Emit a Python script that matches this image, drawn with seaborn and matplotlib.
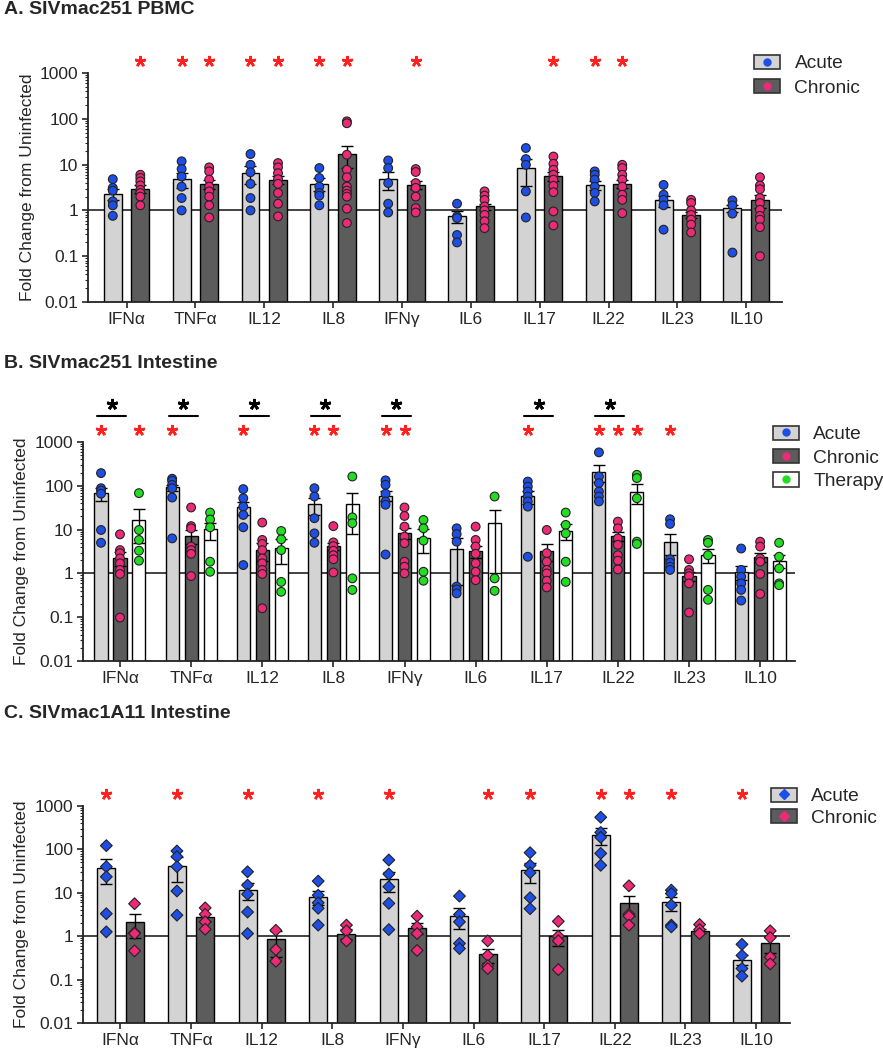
import numpy as np
import pandas as pd
import matplotlib
matplotlib.use("Agg")
import matplotlib.pyplot as plt
import seaborn as sns
from matplotlib.patches import Patch
from matplotlib.lines import Line2D
from matplotlib.ticker import FuncFormatter

cytokines = ["IFNα", "TNFα", "IL12", "IL8", "IFNγ", "IL6", "IL17", "IL22", "IL23", "IL10"]

# ---- A. SIVmac251 PBMC ----
A_acute_mean = [2.3, 4.8, 6.5, 3.8, 4.8, 0.74, 8.4, 3.6, 1.65, 1.12]
A_acute_sem = [0.6, 1.7, 2.8, 1.2, 2.0, 0.21, 5.0, 0.8, 0.45, 0.22]
A_acute_pts = [[4.8, 3.1, 2.7, 1.57, 1.29, 0.76],
               [11.8, 8.0, 5.5, 3.3, 1.86, 1.0],
               [17, 9.9, 6.8, 3.8, 1.86, 1.0],
               [8.4, 5.1, 3.3, 2.4, 2.1, 1.29],
               [12.3, 8.4, 3.95, 1.4, 0.9],
               [1.4, 0.74, 0.68, 0.29, 0.2],
               [23, 13.2, 9.9, 2.6, 0.70],
               [7.1, 6.0, 4.7, 3.3, 2.4, 1.57],
               [3.6, 2.2, 1.7, 1.29, 0.38],
               [1.65, 1.29, 0.85, 0.12]]
A_acute_star = [0, 1, 1, 1, 0, 0, 0, 1, 0, 0]

A_chronic_mean = [3.0, 3.8, 4.7, 17.3, 3.6, 1.22, 5.7, 3.8, 0.8, 1.65]
A_chronic_sem = [0.55, 0.9, 0.9, 8.7, 0.7, 0.18, 1.3, 0.7, 0.13, 0.5]
A_chronic_pts = [[6.0, 5.1, 4.3, 3.5, 2.8, 2.4, 2.0, 1.29],
                 [8.7, 7.1, 4.7, 3.3, 2.6, 2.0, 1.29, 0.70],
                 [10.8, 8.7, 6.5, 4.8, 3.8, 2.4, 1.4, 0.74],
                 [88, 80, 16.4, 7.7, 5.3, 3.3, 2.7, 2.3, 2.0, 1.09, 0.53],
                 [8.0, 6.9, 3.95, 3.1, 2.0, 1.12, 0.9],
                 [2.6, 2.1, 1.7, 1.22, 1.0, 0.8, 0.58, 0.41],
                 [15, 10.4, 7.7, 6.0, 4.7, 3.45, 2.5, 0.95, 0.47],
                 [9.9, 8.4, 6.0, 4.7, 3.3, 2.2, 1.7, 0.87],
                 [1.7, 1.45, 1.0, 0.8, 0.63, 0.49, 0.33],
                 [5.3, 3.5, 2.9, 1.86, 1.45, 1.03, 0.76, 0.63, 0.43, 0.10]]
A_chronic_star = [1, 1, 1, 1, 1, 0, 1, 1, 0, 0]

# ---- B. SIVmac251 Intestine ----
B_acute_mean = [68, 92, 32, 38, 60, 3.55, 57, 206, 5.3, 1.09]
B_acute_sem = [22, 15, 10, 16, 15, 3.0, 18, 85, 2.6, 0.4]
B_acute_pts = [[195, 88, 78, 66, 9.8, 5.0],
               [145, 130, 105, 88, 54, 6.3],
               [84, 52, 33.5, 21.6, 11.3, 1.55],
               [88, 57, 18.2, 8.2, 5.0],
               [133, 105, 66, 44, 37, 2.7],
               [10.7, 7.9, 5.3, 0.5, 0.43, 0.35],
               [125, 96, 74, 57, 44, 33.5, 2.4],
               [580, 163, 115, 74, 57, 44],
               [17.2, 13.5, 2.1, 1.75, 1.42, 1.2],
               [3.7, 1.2, 0.84, 0.59, 0.42, 0.24]]
B_acute_star = [1, 1, 1, 1, 1, 0, 1, 1, 1, 0]

B_chronic_mean = [2.3, 7.3, 3.4, 4.2, 8.5, 3.3, 3.3, 7.2, 0.87, 2.4]
B_chronic_sem = [0.85, 2.5, 1.5, 0.8, 2.5, 1.0, 1.4, 1.8, 0.2, 0.6]
B_chronic_pts = [[7.8, 3.4, 2.9, 2.2, 1.7, 1.2, 0.97, 0.098],
                 [32, 12, 10.7, 4.1, 3.4, 2.8, 0.87],
                 [14.5, 5.8, 4.7, 3.4, 2.2, 1.7, 1.2, 0.97, 0.16],
                 [12, 5.1, 4.2, 3.3, 2.6, 2.1, 1.05],
                 [32, 20.5, 11.7, 6.9, 4.9, 1.85, 1.42, 1.0],
                 [11.7, 5.8, 4.1, 2.8, 1.7, 1.09, 0.70],
                 [9.8, 2.9, 1.85, 1.2, 1.0, 0.68, 0.48],
                 [15.2, 10.7, 6.3, 4.5, 2.6, 1.95, 1.23],
                 [2.1, 1.2, 1.0, 0.87, 0.59, 0.128],
                 [5.3, 4.1, 2.2, 1.85, 0.97, 0.34]]
B_chronic_star = [0, 0, 0, 1, 1, 0, 0, 1, 0, 0]

B_therapy_mean = [17, 10.2, 3.9, 38, 6.6, 14.5, 9.5, 74, 2.7, 1.95]
B_therapy_sem = [12, 4.3, 2.3, 30, 3.6, 13.5, 3.8, 36, 1.0, 0.65]
B_therapy_pts = [[68, 9.8, 5.8, 3.3, 1.95],
                 [24.5, 17, 11.3, 1.85, 1.09],
                 [9.3, 6.0, 3.4, 0.64, 0.38],
                 [163, 19, 14, 0.77, 0.42],
                 [16.6, 10.7, 5.6, 1.09, 0.68],
                 [57, 0.77, 0.40],
                 [24.5, 12.8, 8.2, 1.85, 0.64],
                 [178, 150, 52, 5.3, 4.7],
                 [5.8, 5.0, 2.6, 0.42, 0.25],
                 [5.0, 2.4, 1.3, 0.59, 0.54]]
B_therapy_star = [1, 0, 0, 0, 0, 0, 0, 1, 0, 0]

B_bracket = [1, 1, 1, 1, 1, 0, 1, 1, 0, 0]

# ---- C. SIVmac1A11 Intestine ----
C_acute_mean = [38, 42, 11.9, 8.1, 20.7, 2.95, 33, 214, 6.0, 0.29]
C_acute_sem = [22, 24, 5, 2.9, 10, 1.5, 16, 90, 2.1, 0.07]
C_acute_pts = [[122, 40, 23.4, 3.3, 1.26],
               [92, 68, 40, 11, 3.05],
               [30.5, 15, 9.3, 3.6, 1.15],
               [18.6, 8.8, 5.9, 4.4, 1.8],
               [57, 27, 13.8, 5.7, 1.42],
               [8.4, 3.16, 2.14, 0.68, 0.52],
               [84, 43, 29, 7.7, 4.3],
               [550, 246, 190, 81, 43],
               [11.5, 9.6, 5.2, 1.8, 1.64],
               [0.65, 0.36, 0.18, 0.12]]
C_acute_star = [1, 1, 1, 1, 1, 0, 1, 1, 1, 1]

C_chronic_mean = [2.1, 2.8, 0.84, 1.15, 1.56, 0.38, 1.0, 5.7, 1.35, 0.70]
C_chronic_sem = [1.2, 0.5, 0.5, 0.3, 0.45, 0.14, 0.42, 2.8, 0.15, 0.3]
C_chronic_pts = [[5.6, 1.2, 1.15, 0.46],
                 [4.5, 3.2, 2.14, 1.45],
                 [1.37, 0.49, 0.265],
                 [1.8, 1.33, 0.78],
                 [2.9, 1.64, 1.15, 0.47],
                 [0.78, 0.36, 0.21, 0.18],
                 [2.2, 1.0, 0.78, 0.17],
                 [14.5, 3.2, 2.9, 1.8],
                 [1.86, 1.42, 1.15],
                 [1.33, 0.93, 0.33, 0.23]]
C_chronic_star = [0, 0, 0, 0, 0, 1, 0, 1, 0, 0]

LIGHT = "#d3d3d3"
DARK = "#5c5c5c"
WHITE = "#ffffff"
BLUE = "#1d4fe6"
PINK = "#ec2a78"
GREEN = "#22dd22"

sns.set_style("ticks")
plt.rcParams['font.family'] = ['Liberation Sans', 'DejaVu Sans']


def panel(ax, groups, marker, gap, title, title_y, xlim, legend_pos, labelspacing, bracket=None):
    names = [g[0] for g in groups]
    bars = pd.DataFrame({
        'cytokine': np.tile(cytokines, len(groups)),
        'group': np.repeat(names, len(cytokines)),
        'value': np.concatenate([g[1] for g in groups]),
    })
    rows = []
    for g in groups:
        for cyt, pts in zip(cytokines, g[3]):
            for v in pts:
                rows.append((cyt, g[0], v))
    pts_df = pd.DataFrame(rows, columns=['cytokine', 'group', 'value'])

    # bars on a linear axis first, then switch to log
    sns.barplot(data=bars, x='cytokine', y='value', hue='group', order=cytokines,
                hue_order=names, palette=[g[5] for g in groups], width=0.8, gap=gap,
                edgecolor='black', linewidth=1.0, errorbar=None, saturation=1,
                legend=False, ax=ax)
    ax.set_yscale('log')
    ax.axhline(1, color='#222222', lw=1.2, zorder=0.9)

    centers = []
    for cont, g in zip(ax.containers, groups):
        xs = np.array([b.get_x() + b.get_width() / 2 for b in cont])
        centers.append(xs)
        m = np.array(g[1])
        s = np.array(g[2])
        low = np.minimum(s, m * 0.95)
        ax.errorbar(xs, m, yerr=[low, s], fmt='none', ecolor='black', elinewidth=1.0,
                    capsize=4, capthick=1.0, zorder=3)

    sns.stripplot(data=pts_df, x='cytokine', y='value', hue='group', order=cytokines,
                  hue_order=names, palette=[g[6] for g in groups], dodge=True, jitter=False,
                  marker=marker, size=6.3 if marker == 'o' else 6, edgecolor='#222222',
                  linewidth=0.8, legend=False, ax=ax, zorder=4)

    trans = ax.get_xaxis_transform()
    for xs, g in zip(centers, groups):
        for x, st in zip(xs, g[4]):
            if st:
                ax.plot([x], [1.053], marker=(5, 2, 0), ms=8, mew=1.8, color='#ff2020',
                        transform=trans, clip_on=False)
    if bracket is not None:
        for i, b in enumerate(bracket):
            if b:
                x0 = centers[0][i] - 0.05
                x1 = centers[1][i] + 0.09
                ax.plot([x0, x1], [1.119, 1.119], color='black', lw=1.5,
                        transform=trans, clip_on=False)
                ax.plot([(x0 + x1) / 2], [1.172], marker=(5, 2, 0), ms=8, mew=2,
                        color='black', transform=trans, clip_on=False)

    ax.set_ylim(0.01, 1000)
    ax.set_xlim(*xlim)
    ax.yaxis.set_major_formatter(FuncFormatter(lambda v, p: f"{v:g}"))
    ax.set_xlabel('')
    ax.set_ylabel('Fold Change from Uninfected', fontsize=12.5)
    ax.yaxis.set_label_coords(-0.076, 0.5)
    ax.tick_params(axis='both', labelsize=12.5, width=1.2, length=4, pad=3)
    ax.tick_params(axis='y', which='minor', length=2.5, width=0.8)
    for sp in ['left', 'bottom']:
        ax.spines[sp].set_linewidth(1.3)
        ax.spines[sp].set_color('#222222')
    sns.despine(ax=ax)

    handles = [(Patch(facecolor=g[5], edgecolor='#333333', lw=1.2),
                Line2D([], [], ls='', marker=marker, mfc=g[6], mec=g[6], ms=5))
               for g in groups]
    ax.legend(handles, names, loc='upper left', bbox_to_anchor=legend_pos, frameon=False,
              fontsize=13.8, handlelength=1.35, handleheight=0.75, handletextpad=0.75,
              labelspacing=labelspacing, borderpad=0, borderaxespad=0)

    fig.text(0.005, title_y, title, fontsize=14, fontweight='bold', va='center', ha='left')


fig = plt.figure(figsize=(8.83, 10.5), dpi=100)
axA = fig.add_axes([88 / 883, 1 - 302 / 1050, 694 / 883, 229 / 1050])
axB = fig.add_axes([83 / 883, 1 - 661 / 1050, 712 / 883, 219 / 1050])
axC = fig.add_axes([83 / 883, 1 - 1023 / 1050, 707 / 883, 217 / 1050])

panel(axA,
      [("Acute", A_acute_mean, A_acute_sem, A_acute_pts, A_acute_star, LIGHT, BLUE),
       ("Chronic", A_chronic_mean, A_chronic_sem, A_chronic_pts, A_chronic_star, DARK, PINK)],
      'o', 0.35, "A. SIVmac251 PBMC", 1 - 10 / 1050, (-0.56, 9.52), (0.96, 1.08), 0.35)

panel(axB,
      [("Acute", B_acute_mean, B_acute_sem, B_acute_pts, B_acute_star, LIGHT, BLUE),
       ("Chronic", B_chronic_mean, B_chronic_sem, B_chronic_pts, B_chronic_star, DARK, PINK),
       ("Therapy", B_therapy_mean, B_therapy_sem, B_therapy_pts, B_therapy_star, WHITE, GREEN)],
      'o', 0.31, "B. SIVmac251 Intestine", 1 - 364 / 1050, (-0.52, 9.49), (0.969, 1.075), 0.3,
      bracket=B_bracket)

panel(axC,
      [("Acute", C_acute_mean, C_acute_sem, C_acute_pts, C_acute_star, LIGHT, BLUE),
       ("Chronic", C_chronic_mean, C_chronic_sem, C_chronic_pts, C_chronic_star, DARK, PINK)],
      'D', 0.36, "C. SIVmac1A11 Intestine", 1 - 714 / 1050, (-0.53, 9.48), (0.973, 1.085), 0.2)

fig.savefig("out.png", dpi=100)
